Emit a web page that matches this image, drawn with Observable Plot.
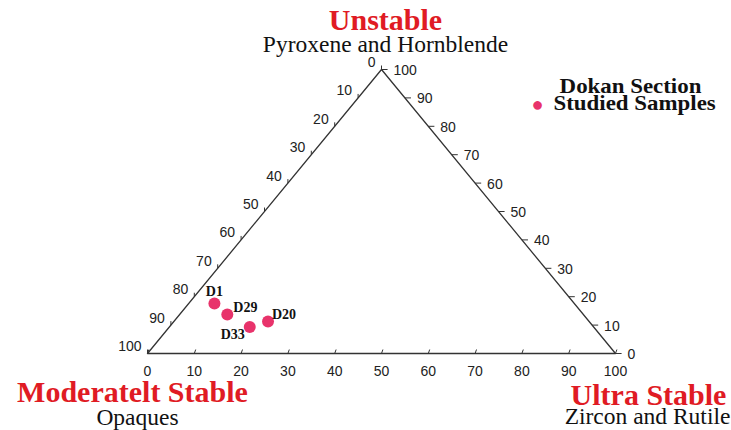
<!DOCTYPE html>
<html>
<head>
<meta charset="utf-8">
<script src="https://cdn.jsdelivr.net/npm/d3@7"></script>
<script src="https://cdn.jsdelivr.net/npm/@observablehq/plot@0.6"></script>
<style>
  html, body { margin: 0; padding: 0; background: #fff; }
  #chart svg { display: block; }
</style>
</head>
<body>
<div id="chart"></div>
<script>
// ---- data ----
const samples  = ["D1", "D29", "D33", "D20"];
const unstable = [17.6, 13.7, 9.3, 11.3];   // Pyroxene and Hornblende %
const opaques  = [76.9, 76.1, 73.5, 68.6];  // Opaques %
const zircon   = [5.5, 10.2, 17.2, 20.1];   // Zircon and Rutile %
const tickValues = [0, 10, 20, 30, 40, 50, 60, 70, 80, 90, 100];
const legendTitle = "Dokan Section";
const legendItem = "Studied Samples";

// ternary projection: x along base (Zircon), y height (Unstable)
function tern(u, o, z) {
  const s = u + o + z;
  return { x: (z + u / 2) / s * 100, y: u / s * 100 };
}

const points = samples.map((name, i) => ({ name, ...tern(unstable[i], opaques[i], zircon[i]) }));

const vTop = tern(100, 0, 0), vLeft = tern(0, 100, 0), vRight = tern(0, 0, 100);
const outline = [vLeft, vRight, vTop, vLeft];

// left edge: Opaques value v (0 at top, 100 at bottom-left)
const leftTicks = tickValues.map(v => ({ v, ...tern(100 - v, v, 0) }));
// right edge: Unstable value v (100 at top, 0 at bottom-right)
const rightTicks = tickValues.map(v => ({ v, ...tern(v, 0, 100 - v) }));
// bottom edge: Zircon value v (0 at left, 100 at right)
const bottomTicks = tickValues.map(v => ({ v, ...tern(0, 100 - v, v) }));

const serif = "Liberation Serif, Times New Roman, serif";
const sans = "Liberation Sans, Arial, sans-serif";
const red = "#e01b24";
const pink = "#e8336b";
const ink = "#222";

const chart = Plot.plot({
  width: 731,
  height: 430,
  marginLeft: 147,
  marginRight: 116,
  marginTop: 69,
  marginBottom: 77,
  x: { domain: [0, 100], axis: null },
  y: { domain: [0, 100], axis: null },
  style: { background: "#fff", overflow: "visible" },
  marks: [
    // triangle
    Plot.line(outline, { x: "x", y: "y", stroke: "#333", strokeWidth: 1.3 }),
    // ticks
    Plot.link(leftTicks, { x1: "x", y1: "y", x2: "x", y2: d => d.y + 1.4, stroke: "#333", strokeWidth: 1 }),
    Plot.link(rightTicks, { x1: "x", y1: "y", x2: d => d.x + 1.3, y2: "y", stroke: "#333", strokeWidth: 1 }),
    Plot.link(bottomTicks, { x1: "x", y1: "y", x2: d => d.x + 0.3, y2: d => d.y + 1.4, stroke: "#333", strokeWidth: 1 }),
    // tick labels
    Plot.text(leftTicks, { x: "x", y: "y", text: d => String(d.v), textAnchor: "end", dx: -6, dy: -7, fontFamily: sans, fontSize: 14, fill: ink }),
    Plot.text(rightTicks, { x: "x", y: "y", text: d => String(d.v), textAnchor: "start", dx: 12, dy: 1, fontFamily: sans, fontSize: 14, fill: ink }),
    Plot.text(bottomTicks, { x: "x", y: "y", text: d => String(d.v), textAnchor: "middle", dy: 18, fontFamily: sans, fontSize: 14, fill: ink }),
    // sample points
    Plot.dot(points, { x: "x", y: "y", r: 6, fill: pink, stroke: "none" }),
    Plot.text(points.filter(d => d.name === "D1"), { x: "x", y: "y", text: "name", dy: -12, fontFamily: serif, fontWeight: "bold", fontSize: 14, fill: "#111" }),
    Plot.text(points.filter(d => d.name === "D29"), { x: "x", y: "y", text: "name", textAnchor: "start", dx: 6, dy: -7, fontFamily: serif, fontWeight: "bold", fontSize: 14, fill: "#111" }),
    Plot.text(points.filter(d => d.name === "D20"), { x: "x", y: "y", text: "name", textAnchor: "start", dx: 4, dy: -7, fontFamily: serif, fontWeight: "bold", fontSize: 14, fill: "#111" }),
    Plot.text(points.filter(d => d.name === "D33"), { x: "x", y: "y", text: "name", textAnchor: "end", dx: -5, dy: 7, fontFamily: serif, fontWeight: "bold", fontSize: 14, fill: "#111" }),
    // corner titles
    Plot.text([vTop], { x: "x", y: "y", text: () => "Unstable", dx: 4, dy: -49, fontFamily: serif, fontWeight: "bold", fontSize: 30, fill: red }),
    Plot.text([vTop], { x: "x", y: "y", text: () => "Pyroxene and Hornblende", dx: 4, dy: -25, fontFamily: serif, fontSize: 23.5, fill: "#111" }),
    Plot.text([vLeft], { x: "x", y: "y", text: () => "Moderatelt Stable", dx: -15, dy: 39, fontFamily: serif, fontWeight: "bold", fontSize: 30, fill: red }),
    Plot.text([vLeft], { x: "x", y: "y", text: () => "Opaques", dx: -10, dy: 64, fontFamily: serif, fontSize: 23.5, fill: "#111" }),
    Plot.text([vRight], { x: "x", y: "y", text: () => "Ultra Stable", dx: 33, dy: 42, fontFamily: serif, fontWeight: "bold", fontSize: 30, fill: red }),
    Plot.text([vRight], { x: "x", y: "y", text: () => "Zircon and Rutile", dx: 32, dy: 63, fontFamily: serif, fontSize: 23.5, fill: "#111" }),
    // legend
    Plot.text([legendTitle], { frameAnchor: "top-right", text: d => d, textAnchor: "middle", dx: 15, dy: 9, fontFamily: serif, fontWeight: "bold", fontSize: 21, fill: "#111" }),
    Plot.text([legendItem], { frameAnchor: "top-right", text: d => d, textAnchor: "start", dx: -62, dy: 26, fontFamily: serif, fontWeight: "bold", fontSize: 21, fill: "#111" }),
    Plot.text(["\u25CF"], { frameAnchor: "top-right", text: d => d, textAnchor: "middle", dx: -78, dy: 27, fontFamily: sans, fontSize: 20, fill: pink })
  ]
});

document.getElementById("chart").appendChild(chart);

// widen the legend lettering a little, as in the original figure
d3.select(chart).selectAll("text").each(function () {
  const t = this.textContent;
  if (t === legendTitle || t === legendItem) {
    const w = this.getComputedTextLength();
    this.setAttribute("textLength", (w * 1.09).toFixed(1));
    this.setAttribute("lengthAdjust", "spacingAndGlyphs");
  }
});
</script>
</body>
</html>
